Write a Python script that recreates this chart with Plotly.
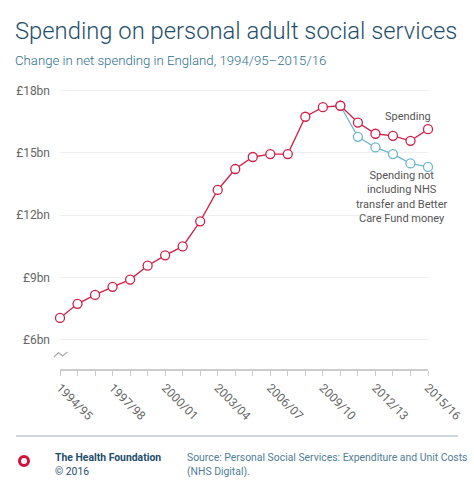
import plotly.graph_objects as go

years = ["1994/95","1995/96","1996/97","1997/98","1998/99","1999/00","2000/01","2001/02",
         "2002/03","2003/04","2004/05","2005/06","2006/07","2007/08","2008/09","2009/10",
         "2010/11","2011/12","2012/13","2013/14","2014/15","2015/16"]
spending = [7.04,7.72,8.15,8.54,8.89,9.56,10.06,10.49,11.70,13.21,14.22,14.80,14.94,14.94,
            16.74,17.20,17.27,16.46,15.92,15.82,15.58,16.14]
excl_years = years[16:]
excl_spending = [17.27,15.77,15.26,14.94,14.49,14.32]
ytick_vals = [6, 9, 12, 15, 18]
ytick_text = ["£6bn", "£9bn", "£12bn", "£15bn", "£18bn"]

RED = "#d21f47"
BLUE = "#6cb6cf"
GREY = "#666666"
FONT = "Roboto"

W, H = 474, 495
L, R, T, B = 60, 46, 85, 126
PW, PH = W - L - R, H - T - B

def px(x):
    return (x - L) / PW

def py(y):
    return (H - B - y) / PH

xi = list(range(len(years)))
xe = [years.index(y) for y in excl_years]

fig = go.Figure()
fig.add_trace(go.Scatter(x=xe, y=excl_spending, mode="lines+markers",
                         line=dict(color=BLUE, width=1.3),
                         marker=dict(symbol="circle", size=9, color="white",
                                     line=dict(color=BLUE, width=1.3)),
                         cliponaxis=False, hoverinfo="skip"))
fig.add_trace(go.Scatter(x=xi, y=spending, mode="lines+markers",
                         line=dict(color=RED, width=1.3),
                         marker=dict(symbol="circle", size=9, color="white",
                                     line=dict(color=RED, width=1.3)),
                         cliponaxis=False, hoverinfo="skip"))

ticktext = [y if i % 3 == 0 else "" for i, y in enumerate(years)]

fig.update_layout(
    width=W, height=H, margin=dict(l=L, r=R, t=T, b=B),
    paper_bgcolor="white", plot_bgcolor="white", showlegend=False,
    font=dict(family=FONT, color=GREY, size=12),
    xaxis=dict(range=[0, len(years) - 1], tickvals=xi, ticktext=ticktext,
               tickangle=45, ticks="outside", ticklen=5, tickcolor="#cccccc",
               showline=True, linecolor="#cccccc", linewidth=2,
               showgrid=False, zeroline=False, fixedrange=True, automargin=False,
               tickfont=dict(size=12, color=GREY)),
    yaxis=dict(range=[4.58, 18.27], tickvals=ytick_vals, ticktext=ytick_text,
               showgrid=True, gridcolor="#efefef", gridwidth=1, automargin=False,
               zeroline=False, showline=False, ticks="", ticklabelstandoff=9,
               tickfont=dict(size=12, color=GREY), fixedrange=True),
)

# titles
fig.add_annotation(text="Spending on personal adult social services", xref="paper", yref="paper",
                   x=px(13), y=py(31), xanchor="left", yanchor="middle", showarrow=False,
                   font=dict(family=FONT, size=23.8, color="#1f4f6c", weight=300))
fig.add_annotation(text="Change in net spending in England, 1994/95–2015/16", xref="paper", yref="paper",
                   x=px(13), y=py(61), xanchor="left", yanchor="middle", showarrow=False,
                   font=dict(family=FONT, size=13.2, color="#2d6f8e", weight=300))

# series labels
fig.add_annotation(text="Spending", xref="paper", yref="paper",
                   x=px(433), y=py(117), xanchor="right", yanchor="middle", showarrow=False,
                   font=dict(size=11, color="#555555"))
fig.add_annotation(text="Spending not<br>including NHS<br>transfer and Better<br>Care Fund money",
                   xref="paper", yref="paper", x=px(402), y=py(197), xanchor="center",
                   yanchor="middle", align="center", showarrow=False,
                   font=dict(size=11, color="#555555"))

# axis break squiggle
fig.add_shape(type="path", xref="paper", yref="paper",
              path=f"M {px(54)} {py(357)} L {px(58.5)} {py(352.5)} L {px(62.5)} {py(356)} L {px(67.5)} {py(352)}",
              line=dict(color="#aaaaaa", width=1.2))

# footer
fig.add_shape(type="line", xref="paper", yref="paper", x0=px(16), x1=px(458), y0=py(436), y1=py(436),
              line=dict(color="#cdd7dd", width=2))
fig.add_shape(type="circle", xref="paper", yref="paper", x0=px(19.5), x1=px(28.5), y0=py(456.5), y1=py(465.5),
              line=dict(color="#d0103a", width=3), fillcolor="white")
fig.add_annotation(text="<b>The Health Foundation</b><br>© 2016", xref="paper", yref="paper",
                   x=px(53), y=py(464.5), xanchor="left", yanchor="middle", align="left",
                   showarrow=False, font=dict(size=10.4, color="#1f4f6c"))
fig.add_annotation(text="Source: Personal Social Services: Expenditure and Unit Costs<br>(NHS Digital).",
                   xref="paper", yref="paper", x=px(185), y=py(464.5), xanchor="left",
                   yanchor="middle", align="left", showarrow=False,
                   font=dict(size=10.4, color="#4f7e96"))

fig.write_html("out.html", config={"displayModeBar": False},
               post_script="document.body.style.margin='0';")
